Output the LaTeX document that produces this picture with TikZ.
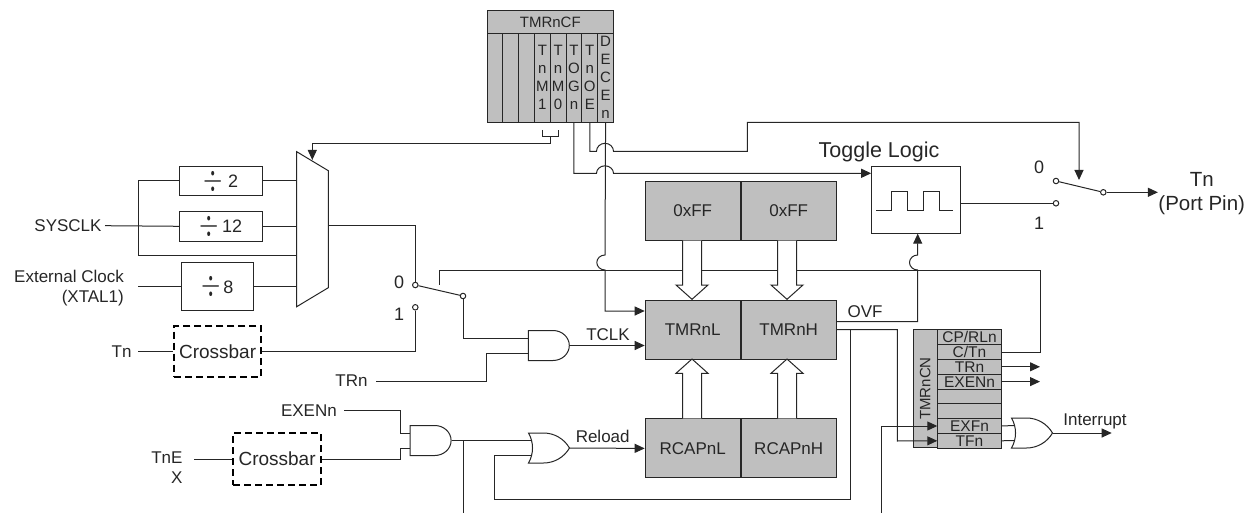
\documentclass[tikz,border=0pt]{standalone}
\usepackage{fontspec}
\setmainfont{Liberation Sans}
\usetikzlibrary{positioning, arrows.meta, shapes.gates.logic.US}
\newcommand{\sz}[2]{\fontsize{#1}{#2}\selectfont}
\newcommand{\divsym}[3]{\raisebox{-2.7pt}{\scalebox{1}[1.45]{\sz{25}{25}$\div$}}\kern#2pt{\sz{18}{20}#1}\hspace{#3pt}}
\definecolor{reggray}{HTML}{BFBFBF}

\begin{document}
\begin{tikzpicture}[
    x=1pt, y=-1pt,
    line width=1pt, draw=black!85,
    every node/.style={font=\sz{17}{20}, inner sep=0pt, text=black!85},
    wire/.style={draw=black!85},
    arr/.style={draw=black!85, -{Stealth[length=10pt, width=9pt, inset=0pt]}},
    reg/.style={draw=black!85, fill=reggray, minimum height=59pt, minimum width=95pt},
    cfcol/.style={draw=black!85, fill=reggray, anchor=north west, minimum width=15.81pt, minimum height=89pt, align=center, font=\sz{15}{18}},
    cnrow/.style={draw=black!85, fill=reggray, minimum width=63.4pt, minimum height=14.8pt, anchor=north west, font=\sz{15.5}{16}, text height=11pt, text depth=0pt},
    divbox/.style={draw=black!85, minimum height=29.6pt, minimum width=82.3pt},
    xbar/.style={draw=black, dashed, dash pattern=on 7pt off 4pt, line width=1.7pt, font=\sz{19}{20}},
    term/.style={circle, draw=black!85, fill=white, minimum size=5.5pt},
    lbl/.style={anchor=east},
    hollow/.style={draw=black!85, fill=white},
    andg/.style={and gate US, draw=black!85, logic gate inputs=nn, logic gate input sep=10pt, xscale=1.09, transform shape},
    org/.style={or gate US, draw=black!85, logic gate inputs=nn, logic gate input sep=10pt},
]
\useasboundingbox (0,0) rectangle (1255,513);

% TMRnCF register
\node[cfcol, minimum width=126.5pt, minimum height=22.2pt, font=\sz{15}{18}] (cfhead) at (486.5,10.5) {TMRnCF};
\foreach \i/\txt in {0/{},1/{},2/{},3/{T\\n\\M\\1},4/{T\\n\\M\\0},5/{T\\O\\G\\n},6/{T\\n\\O\\E},7/{D\\E\\C\\E\\n}}
    \node[cfcol] (cf\i) at (486.5+\i*15.81,32.7) {\txt};

% Clock dividers and mux
\node[divbox] (div2) at (221,181) {\divsym{2}{5}{24.4}};
\node[divbox, below=14.7pt of div2] (div12) {\divsym{12}{3}{10.4}};
\node[divbox, minimum height=48.3pt, minimum width=71.3pt] (div8) at (217.6,286.8) {\divsym{8}{2}{20.6}};
\node[xbar, minimum width=86.7pt, minimum height=51.6pt] (xbar1) at (217.6,351.5) {Crossbar};
\node[xbar, minimum width=87.7pt, minimum height=52.3pt] (xbar2) at (277.1,459) {Crossbar};

\node[lbl, inner xsep=3pt] (sysclk) at (105,225.7) {SYSCLK};
\node[lbl, align=right, inner xsep=14pt] (extclk) at (138.3,288) {External Clock\\(XTAL1)};
\node[lbl, inner xsep=6pt] (tnin) at (138,351.5) {Tn};
\node[lbl, inner xsep=7pt] (exen) at (344.3,410.7) {EXENn};
\node[lbl, align=right, inner xsep=11pt] (tnex) at (194,468) {TnE\\X};
\node[lbl, inner xsep=8pt] (trn) at (376,381) {TRn};

\coordinate (muxw) at (296.7,225);
\coordinate (muxe) at (328.3,225);
\draw[wire, fill=white] (muxw |- 0,151.7) -- (muxe |- 0,170.7) -- (muxe |- 0,287.7) -- (muxw |- 0,306.7) -- cycle;

\coordinate (clkbus) at (138.3,255);
\draw[wire] (sysclk.east) -- (div12.west);
\draw[wire] (div2.west) -| (clkbus) -- (clkbus -| muxw);
\draw[wire] (div2.east) -- (div2 -| muxw);
\draw[wire] (div12.east) -- (div12 -| muxw);
\draw[wire] (extclk.east |- div8) -- (div8.west);
\draw[wire] (div8.east) -- (div8 -| muxw);
\draw[wire] (tnin.east) -- (xbar1.west);
\draw[wire] (tnex.east |- xbar2) -- (xbar2.west);

% Clock select switch
\node[term] (sw0) at (415.3,285) {};
\node[term] (sw1) at (415.3,307.3) {};
\node[term] (swp) at (463,296) {};
\node (sw0l) at (399,282.7) {\sz{18}{20}0};
\node (sw1l) at (399,314) {\sz{18}{20}1};
\draw[wire] (sw0) -- (swp);
\draw[wire] (muxe) -| (sw0);
\draw[wire] (xbar1.east) -| (sw1);

% Gates
\node[andg] (and1) at (547.5,345.5) {};
\node[andg] (and2) at (429.3,440.5) {};
\node[org] (or1) at (546,448) {};
\node[org] (or2) at (1029,433) {};
\draw[wire] (swp) |- ([yshift=7.5pt]and1.west);
\draw[wire] (trn.east) -| (486.7,353) -- ([yshift=-7.5pt]and1.west);
\draw[wire] (exen.east) -| (400,433) -- ([yshift=7.5pt]and2.west);
\draw[wire] (xbar2.east) -| (400,448) -- ([yshift=-7.5pt]and2.west);
\draw[wire] (and2.east) -- ([yshift=7.5pt,xshift=-1pt]or1.west);
\coordinate (tnexdown) at (463,513);
\draw[wire] (tnexdown |- and2.east) -- (tnexdown);

% Timer registers
\node[reg, anchor=north west] (ffl) at (644.7,181) {0xFF};
\node[reg, right=0pt of ffl] (ffh) {0xFF};
\node[reg, anchor=north west] (tmrl) at (644.7,299.5) {TMRnL};
\node[reg, right=0pt of tmrl] (tmrh) {TMRnH};
\node[reg, anchor=north west] (rcapl) at (644.7,418.4) {RCAPnL};
\node[reg, right=0pt of rcapl] (rcaph) {RCAPnH};

% Toggle logic and output switch
\node[draw=black!85, minimum width=89pt, minimum height=66.7pt] (togbox) at (916.2,199.8) {};
\node[font=\sz{21.5}{22}] (togl) at (879,152) {Toggle Logic};
\draw[wire] (876,210.7) -- (891.7,210.7) -- (891.7,192) -- (907.7,192) -- (907.7,210.7) -- (923.7,210.7) -- (923.7,192) -- (939.3,192) -- (939.3,210.7) -- (953.3,210.7);
\node[term] (out0) at (1056,181) {};
\node[term] (out1) at (1056,203.3) {};
\node[term] (outp) at (1103.3,192.3) {};
\node[font=\sz{18}{20}] (out0l) at (1039,167.7) {0};
\node[font=\sz{18}{20}] (out1l) at (1039,223) {1};
\node[align=center, font=\sz{20.5}{24.5}] (tnout) at (1201.7,193.5) {Tn\\(Port Pin)};
\draw[wire] (out0) -- (outp);
\draw[wire] (togbox.east |- out1) -- (out1);
\draw[arr] (outp) -- (tnout.west |- outp);

% TMRnCN register
\node[draw=black!85, fill=reggray, rotate=90, minimum width=118.4pt, minimum height=24pt, font=\sz{15}{16}] (cnside) at (925.3,388.5) {TMRnCN};
\foreach \nm/\txt [count=\i from 0] in {cprl/{CP/RLn},ctn/{C/Tn},trnb/{TRn},exenb/{EXENn},cn4/{},cn5/{},exf/{EXFn},tfn/{TFn}}
    \node[cnrow] (\nm) at (937.3,329.3+\i*14.8) {\txt};

% Select lines from TMRnCF
\coordinate (brk) at (550,144);
\coordinate (muxsel) at (312.3,160);
\draw[wire] (542,130) -- (542,136.7) -- (558,136.7) -- (558,130);
\draw[wire] (550,136.7) -- (brk);
\draw[arr] (brk) -| (muxsel);
\draw[arr] (cf5.south) |- (596.5,173.3) arc[start angle=180, end angle=0, x radius=8.5pt, y radius=7.5pt] -- (togbox.west |- 0,173.3);
\draw[arr] (cf6.south) |- (596.5,151.3) arc[start angle=180, end angle=0, x radius=8.5pt, y radius=8pt] -| (747.3,122.3) -| (1079,180);
\draw[arr] (cf7.south) -- (605,255) arc[start angle=90, end angle=270, x radius=8.2pt, y radius=7.5pt] |- (tmrl.west |- 0,311);

% Timer control
\coordinate (fbk) at (1040,270);
\coordinate (swsel) at (439,285);
\draw[wire] (ctn.east) -| (fbk) -- (fbk -| swsel) -- (swsel);
\draw[arr] (trnb.east) -- (fbk |- trnb);
\draw[arr] (exenb.east) -- (fbk |- exenb);
\draw[arr] (and1.east) -- (and1.east -| tmrl.west);
\node (tclk) at (608,335) {TCLK};
\draw[arr] (or1.east) -- (rcapl.west);
\node (reload) at (602.7,436) {Reload};

% Overflow paths
\coordinate (ovf) at (tmrh.east |- 0,321.7);
\coordinate (rlbus) at (850.7,499.3);
\coordinate (exfup) at (881.7,513);
\draw[arr] (ovf) -| (917.7,270) arc[start angle=270, end angle=90, x radius=8.2pt, y radius=7.5pt] -- (togbox.south -| 917.7,0);
\node (ovfl) at (865,312) {OVF};
\draw[arr] (tmrh.east) -| (897.3,441) -- (tfn.west);
\draw[wire] (tmrh.east) -| (rlbus) -| (494.3,455.5) -- ([yshift=-7.5pt,xshift=-1pt]or1.west);
\draw[arr] (exfup) |- (exf.west);
\draw[wire] (exf.east) -- ([yshift=7.5pt,xshift=-1pt]or2.west);
\draw[wire] (tfn.east) -- ([yshift=-7.5pt,xshift=-1pt]or2.west);
\coordinate (irq) at (1111.7,433);
\draw[arr] (or2.east) -- (irq);
\node (irql) at (1095,421.7) {Interrupt};

% Hollow bus arrows
\foreach \busx in {692,787} {
    \draw[hollow] (\busx-9.5,240.5) -- (\busx-9.5,285) -- (\busx-16,285) -- (\busx,299.3) -- (\busx+16,285) -- (\busx+9.5,285) -- (\busx+9.5,240.5);
    \draw[hollow] (\busx-9.5,418.4) -- (\busx-9.5,373.3) -- (\busx-16,373.3) -- (\busx,359) -- (\busx+16,373.3) -- (\busx+9.5,373.3) -- (\busx+9.5,418.4);
}
\end{tikzpicture}
\end{document}
